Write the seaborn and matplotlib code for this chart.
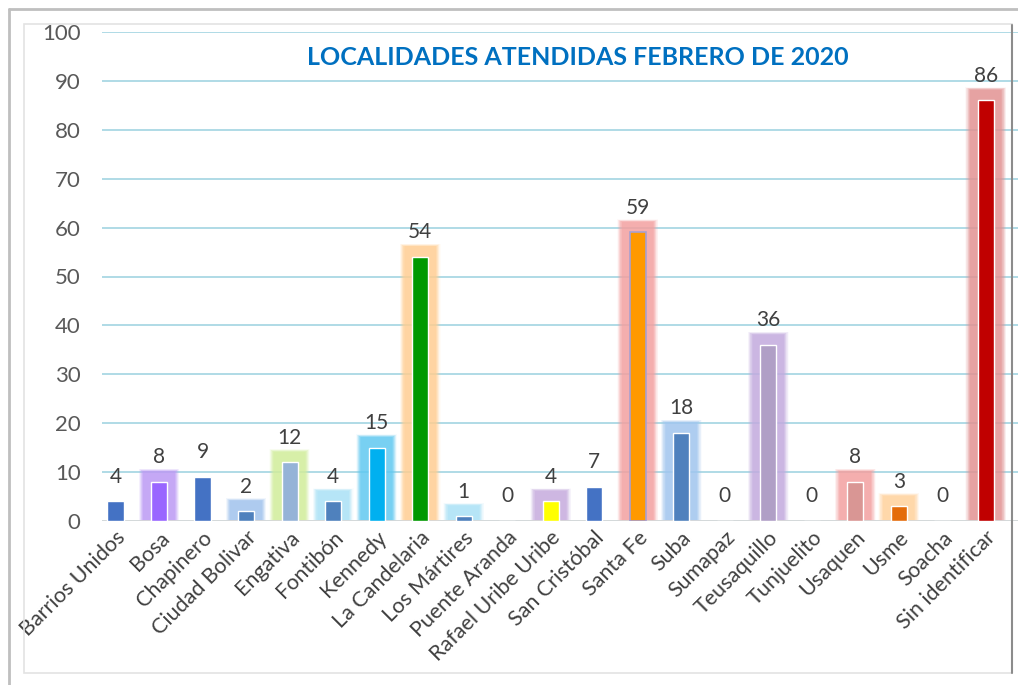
"""
Localidades atendidas - febrero de 2020
Bar chart with soft glow around most bars
"""

import pandas as pd
import seaborn as sns
import matplotlib.pyplot as plt
from matplotlib.lines import Line2D
from matplotlib.patches import Rectangle
from matplotlib.transforms import ScaledTranslation

sns.set_style('white')
plt.rcParams['font.family'] = ['Lato', 'DejaVu Sans']

# Data

localidades = ['Barrios Unidos', 'Bosa', 'Chapinero', 'Ciudad Bolivar', 'Engativa',
               'Fontibón', 'Kennedy', 'La Candelaria', 'Los Mártires', 'Puente Aranda',
               'Rafael Uribe Uribe', 'San Cristóbal', 'Santa Fe', 'Suba', 'Sumapaz',
               'Teusaquillo', 'Tunjuelito', 'Usaquen', 'Usme', 'Soacha', 'Sin identificar']
atendidos = [4, 8, 9, 2, 12, 4, 15, 54, 1, 0, 4, 7, 59, 18, 0, 36, 0, 8, 3, 0, 86]

colores = ['#4472C4', '#9966FF', '#4472C4', '#4F81BD', '#95B3D7', '#4F81BD', '#00B0F0',
           '#009900', '#4F81BD', '#4472C4', '#FFFF00', '#4472C4', '#FF9900', '#4F81BD',
           '#4472C4', '#B09FC6', '#4472C4', '#D99694', '#E46C0A', '#4472C4', '#C00000']
brillo = [None, '#BE9CF5', None, '#A2C4EE', '#D3EE9C', '#ABE3F7', '#62CBF2',
          '#FFCF94', '#ABE3F7', None, '#C8AEE0', None, '#F4A2A2', '#A2C7F0',
          None, '#C4ADDF', None, '#F4A2A2', '#FFD49E', None, '#E49494']

df = pd.DataFrame({'Localidad': localidades, 'Total': atendidos})

# Figure

fig = plt.figure(figsize=(10.18, 6.85), dpi=100)
ax = fig.add_axes([102 / 1018, 164 / 685, 916 / 1018, 489 / 685])

# Soft glow behind the bars (many thin translucent layers)
capas = [(0.94 - 0.025 * k, 2.7 - 0.1 * k, 0.06 + 0.025 * k) for k in range(10)]
for i, (v, c) in enumerate(zip(atendidos, brillo)):
    if c is None or v == 0:
        continue
    for w, pad, a in capas:
        ax.bar(i, v + pad + 1.2, width=w, bottom=-1.2 + (0.94 - w) * 1.5,
               color=c, alpha=a, linewidth=0, zorder=1)

sns.barplot(data=df, x='Localidad', y='Total', hue='Localidad', palette=colores,
            legend=False, width=0.37, saturation=1, ax=ax, zorder=3)
# thin lavender edge on Santa Fe
ax.patches[-21 + 12].set_edgecolor('#A9A0D0')
ax.patches[-21 + 12].set_linewidth(1.2)

# Value labels
for i, v in enumerate(atendidos):
    ax.annotate(str(v), (i, v), xytext=(0, 10.5), textcoords='offset points',
                ha='center', va='bottom', fontsize=15, color='#404040', zorder=5)

# Axes formatting
ax.set_xlim(-0.31, 20.74)
ax.set_ylim(0, 100)
ax.set_yticks(range(0, 101, 10))
ax.yaxis.grid(True, color='#A9D8E4', linewidth=1.3)
ax.set_axisbelow(True)
ax.axhline(0, color='#D9D9D9', linewidth=2, zorder=2)
for s in ax.spines.values():
    s.set_visible(False)
ax.tick_params(axis='y', length=0, pad=15.5, labelsize=16, labelcolor='#595959')
ax.tick_params(axis='x', length=0, pad=4, labelsize=15.5, labelcolor='#404040')
ax.set_xticks(range(len(localidades)))
ax.set_xticklabels(localidades, rotation=45, ha='right', va='center',
                   rotation_mode='anchor')
desplazar = ScaledTranslation(0.07, -0.08, fig.dpi_scale_trans)
for t in ax.get_xticklabels():
    t.set_transform(t.get_transform() + desplazar)
ax.set_xlabel('')
ax.set_ylabel('')

ax.set_title('LOCALIDADES ATENDIDAS FEBRERO DE 2020', fontsize=18, fontweight='bold',
             color='#0070C0', x=(578 - 102) / 916, y=0.915)

# Frames
fig.add_artist(Line2D([9 / 1018, 9 / 1018], [0, 676 / 685], color='#BFBFBF', lw=2))
fig.add_artist(Line2D([9 / 1018, 1], [676 / 685, 676 / 685], color='#BFBFBF', lw=2))
fig.add_artist(Rectangle((24 / 1018, 12 / 685), 988 / 1018, 649 / 685, fill=False,
                         edgecolor='#E3E3E3', lw=1.2))
fig.add_artist(Line2D([1012 / 1018, 1012 / 1018], [12 / 685, 660 / 685],
                      color='#8C8C8C', lw=1.5))

plt.savefig('out.png', dpi=100)
